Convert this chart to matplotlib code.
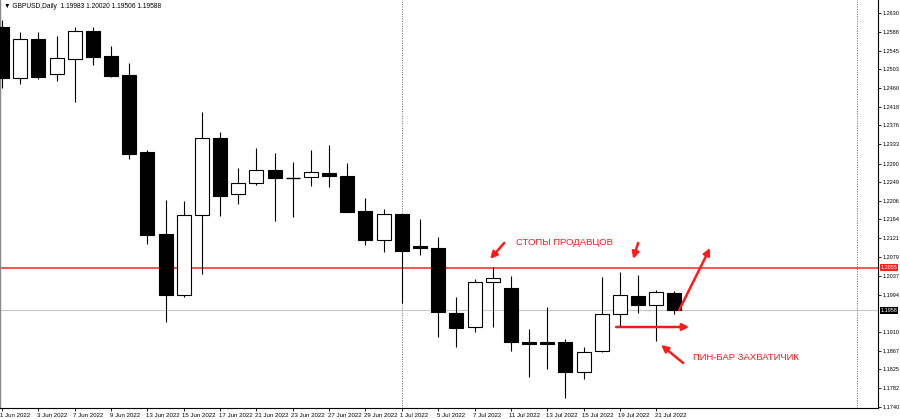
import numpy as np
import matplotlib
matplotlib.use('Agg')
import matplotlib.pyplot as plt
import matplotlib.transforms as mtransforms
from matplotlib.patches import Rectangle

plt.rcParams['font.family'] = ['Liberation Sans', 'DejaVu Sans']

###################################################
#Daily GBPUSD bars, 1 Jun 2022 .. 22 Jul 2022
dates = ['1 Jun 2022', '2 Jun 2022', '3 Jun 2022', '6 Jun 2022', '7 Jun 2022', '8 Jun 2022',
         '9 Jun 2022', '10 Jun 2022', '13 Jun 2022', '14 Jun 2022', '15 Jun 2022', '16 Jun 2022',
         '17 Jun 2022', '20 Jun 2022', '21 Jun 2022', '22 Jun 2022', '23 Jun 2022', '24 Jun 2022',
         '27 Jun 2022', '28 Jun 2022', '29 Jun 2022', '30 Jun 2022', '1 Jul 2022', '4 Jul 2022',
         '5 Jul 2022', '6 Jul 2022', '7 Jul 2022', '8 Jul 2022', '11 Jul 2022', '12 Jul 2022',
         '13 Jul 2022', '14 Jul 2022', '15 Jul 2022', '18 Jul 2022', '19 Jul 2022', '20 Jul 2022',
         '21 Jul 2022', '22 Jul 2022']
o = [1.25984, 1.24832, 1.25713, 1.24922, 1.25261, 1.25894, 1.25329, 1.24900, 1.23160, 1.21308,
     1.19930, 1.21737, 1.23477, 1.22212, 1.22460, 1.22754, 1.22573, 1.22596, 1.22686, 1.22618,
     1.21828, 1.21172, 1.21760, 1.21037, 1.20992, 1.19523, 1.19207, 1.20224, 1.20088, 1.18868,
     1.18868, 1.18868, 1.18191, 1.18665, 1.19501, 1.19907, 1.19704, 1.19983]
h = [1.26142, 1.25871, 1.25871, 1.25781, 1.25984, 1.25984, 1.25555, 1.25171, 1.23205, 1.22076,
     1.22053, 1.24064, 1.23612, 1.22799, 1.23251, 1.23138, 1.22934, 1.23205, 1.23318, 1.22912,
     1.22121, 1.21873, 1.21760, 1.21647, 1.21240, 1.19885, 1.20291, 1.20562, 1.20359, 1.19162,
     1.19659, 1.18936, 1.18755, 1.20337, 1.20450, 1.20382, 1.20043, 1.20020]
l = [1.24606, 1.24696, 1.24809, 1.24764, 1.24290, 1.25126, 1.24855, 1.23002, 1.21082, 1.19320,
     1.19885, 1.20404, 1.21715, 1.21986, 1.22415, 1.21602, 1.21692, 1.22392, 1.22370, 1.21805,
     1.21059, 1.20901, 1.19749, 1.20834, 1.18981, 1.18755, 1.19094, 1.19207, 1.18665, 1.18078,
     1.18258, 1.17603, 1.18032, 1.18642, 1.19207, 1.19523, 1.18891, 1.19506]
c = [1.24832, 1.25713, 1.24855, 1.25284, 1.25894, 1.25306, 1.24877, 1.23115, 1.21285, 1.19930,
     1.21737, 1.23477, 1.22166, 1.22460, 1.22754, 1.22573, 1.22580, 1.22709, 1.22618, 1.21805,
     1.21172, 1.21760, 1.20924, 1.20992, 1.19546, 1.19184, 1.20224, 1.20314, 1.18868, 1.18823,
     1.18823, 1.18191, 1.18642, 1.19501, 1.19930, 1.19704, 1.19998, 1.19588]

price_ticks = [1.2630, 1.2588, 1.2545, 1.2503, 1.2460, 1.2418, 1.2376, 1.2333, 1.2290, 1.2249,
               1.2206, 1.2164, 1.2121, 1.2079, 1.2037, 1.1994, 1.1910, 1.1867, 1.1825, 1.1782, 1.1740]
level = 1.2055 #red level
bid = 1.1958 #current price line
###################################################

fig = plt.figure(figsize=(9, 4.19), dpi=100)
ax = fig.add_axes([0, 11/419, 878/900, 408/419])

n = len(o)
xs = np.arange(n)
w = 0.77
for i in range(n):
    up = c[i] >= o[i]
    ax.vlines(xs[i], l[i], h[i], color='black', lw=0.8, zorder=2)
    lo, hi = min(o[i], c[i]), max(o[i], c[i])
    if hi - lo < 0.00008:
        ax.hlines((lo+hi)/2, xs[i]-w/2, xs[i]+w/2, color='black', lw=1.0, zorder=3)
    else:
        ax.add_patch(Rectangle((xs[i]-w/2, lo), w, hi-lo, facecolor='white' if up else 'black',
                               edgecolor='black', lw=0.8, zorder=3))

ax.axhline(level, color='#ff2020', lw=1.1, zorder=1)
ax.axhline(bid, color='#c8c8c8', lw=0.8, zorder=1)
ax.axvline(22, color='#666666', lw=0.7, ls=(0, (1, 1.5)), zorder=1)
ax.axvline(47.05, color='#666666', lw=0.7, ls=(0, (1, 1.5)), zorder=1)

ax.set_xlim(-0.11, 48.2)
ax.set_ylim(1.17377, 1.26594)

#axes look
ax.spines['top'].set_visible(False)
ax.spines['left'].set_color('#888888')
ax.spines['left'].set_linewidth(1.0)
ax.yaxis.tick_right()
ax.set_yticks(price_ticks)
ax.set_yticklabels(['%.4f' % p for p in price_ticks])
ax.tick_params(axis='y', labelsize=4.0, length=2, width=0.6, pad=1)
ax.set_xticks(xs[::2])
ax.set_xticklabels([dates[i] for i in range(0, n, 2)], ha='left')
ax.tick_params(axis='x', labelsize=4.4, length=2.5, width=0.6, pad=1)
for lab in ax.get_xticklabels():
    lab.set_transform(lab.get_transform() + mtransforms.ScaledTranslation(-1.5/100, 0, fig.dpi_scale_trans))

trans = mtransforms.blended_transform_factory(ax.transAxes, ax.transData)
ax.text(1.003, level, '%.4f' % level, transform=trans, fontsize=4.0, color='white', va='center', ha='left',
        bbox=dict(boxstyle='square,pad=0.15', fc='#ff2020', ec='none'), clip_on=False, zorder=5)
ax.text(1.003, bid, '%.4f' % bid, transform=trans, fontsize=4.0, color='white', va='center', ha='left',
        bbox=dict(boxstyle='square,pad=0.15', fc='black', ec='none'), clip_on=False, zorder=5)

ax.text(0.004, 0.992, '\u25bc GBPUSD,Daily  %.5f %.5f %.5f %.5f' % (o[-1], h[-1], l[-1], c[-1]),
        transform=ax.transAxes, fontsize=4.8, va='top', ha='left')

#annotations
red = '#ff1a1a'
ap = dict(arrowstyle='-|>', color=red, lw=1.8, mutation_scale=10, shrinkA=0, shrinkB=0)
ax.annotate('', xy=(26.86, 1.20743), xytext=(27.63, 1.21105), arrowprops=ap)
ax.annotate('', xy=(34.73, 1.20743), xytext=(35.0, 1.21105), arrowprops=ap)
ax.annotate('', xy=(38.96, 1.20992), xytext=(37.26, 1.19591), arrowprops=ap)
ax.annotate('', xy=(37.81, 1.19207), xytext=(33.79, 1.19207), arrowprops=ap)
ax.annotate('', xy=(36.27, 1.18800), xytext=(37.48, 1.18394), arrowprops=ap)
ax.text(28.29, 1.21105, 'СТОПЫ ПРОДАВЦОВ', color=red, fontsize=6.8, va='center', ha='left')
ax.text(38.03, 1.18529, 'ПИН-БАР ЗАХВАТИЧИК', color=red, fontsize=6.8, va='center', ha='left')

plt.savefig('out.png', dpi=100)
